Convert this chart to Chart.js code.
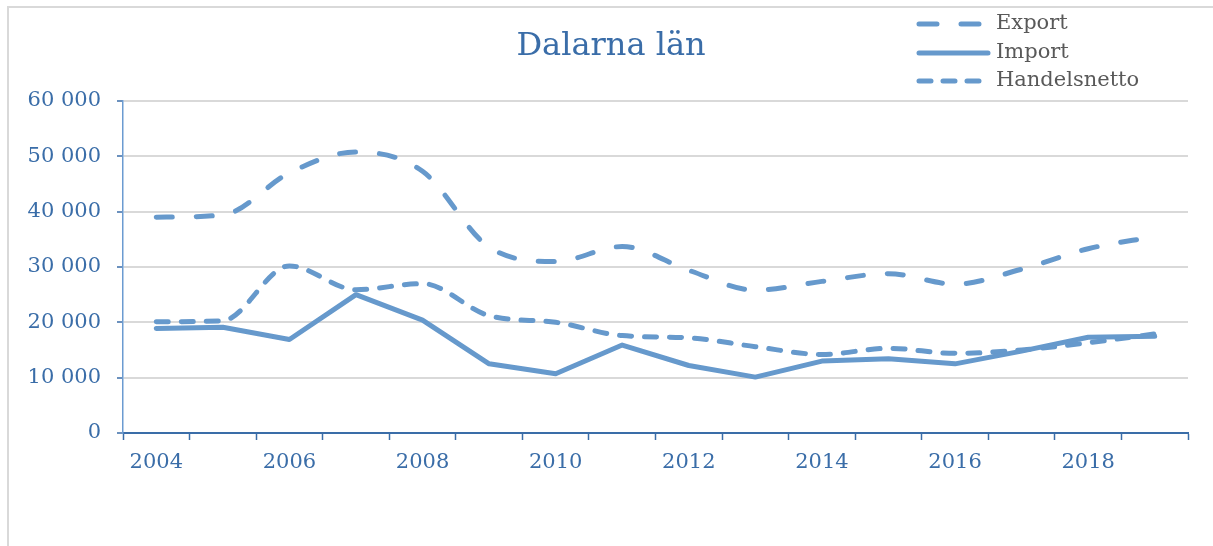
<!DOCTYPE html>
<html>
<head>
<meta charset="utf-8">
<script src="https://cdn.jsdelivr.net/npm/chart.js@4"></script>
<style>
    body { margin: 0; background: #fff; }
    #frame { position: absolute; left: 7px; top: 6px; width: 1400px; height: 700px; border-left: 2px solid #d9d9d9; border-top: 2px solid #d9d9d9; }
    #userChart { position: absolute; left: 0; top: 0; }
</style>
</head>
<body>
<div id="frame"></div>
<canvas id="userChart" width="1213" height="546"></canvas>
<script>
// Data
const years = ['2004', '2005', '2006', '2007', '2008', '2009', '2010', '2011', '2012', '2013', '2014', '2015', '2016', '2017', '2018', '2019'];
const exportValues = [39000, 39400, 47000, 50800, 47300, 33600, 31000, 33700, 29400, 25800, 27400, 28800, 26900, 29600, 33300, 35500];
const importValues = [18900, 19100, 16900, 25000, 20400, 12500, 10700, 15900, 12200, 10100, 13000, 13400, 12500, 14800, 17300, 17500];
const nettoValues = [20100, 20300, 30200, 25900, 27000, 21200, 20000, 17600, 17200, 15600, 14200, 15300, 14400, 15000, 16300, 17900];
const yTicks = [0, 10000, 20000, 30000, 40000, 50000, 60000];

const lineColor = '#6699cc';
const textBlue = '#3a6da8';
const serif = "'DejaVu Serif', 'Liberation Serif', serif";

function fmt(v) {
    return v.toString().replace(/\B(?=(\d{3})+(?!\d))/g, ' ');
}

// title + vertical legend in the top right corner
const decorations = {
    id: 'decorations',
    afterDraw(chart) {
        const ctx = chart.ctx;
        ctx.save();
        ctx.fillStyle = textBlue;
        ctx.font = `32px ${serif}`;
        ctx.textAlign = 'center';
        ctx.textBaseline = 'middle';
        ctx.fillText('Dalarna län', 611, 47);

        const rows = [24, 53, 81];
        chart.data.datasets.forEach((ds, i) => {
            ctx.beginPath();
            ctx.strokeStyle = ds.borderColor;
            ctx.lineWidth = ds.borderWidth;
            ctx.lineCap = 'round';
            ctx.setLineDash(ds.legendDash);
            ctx.moveTo(919, rows[i]);
            ctx.lineTo(988, rows[i]);
            ctx.stroke();
            ctx.setLineDash([]);
            ctx.fillStyle = '#595959';
            ctx.font = `21px ${serif}`;
            ctx.textAlign = 'left';
            ctx.fillText(ds.label, 996, rows[i]);
        });
        ctx.restore();
    }
};

const ctx = document.getElementById('userChart').getContext('2d');
new Chart(ctx, {
    type: 'line',
    data: {
        labels: years,
        datasets: [
            { label: 'Export', data: exportValues, borderColor: lineColor, borderWidth: 5, borderDash: [16, 24], legendDash: [18, 24], cubicInterpolationMode: 'monotone', borderCapStyle: 'round' },
            { label: 'Import', data: importValues, borderColor: lineColor, borderWidth: 5, borderDash: [], legendDash: [], tension: 0, borderCapStyle: 'round' },
            { label: 'Handelsnetto', data: nettoValues, borderColor: lineColor, borderWidth: 5, borderDash: [12, 13], legendDash: [12, 12], cubicInterpolationMode: 'monotone', borderCapStyle: 'round' }
        ]
    },
    options: {
        responsive: false,
        animation: false,
        devicePixelRatio: 1,
        layout: { padding: { left: 0, top: 101, right: 25, bottom: 0 } },
        elements: { point: { radius: 0 }, line: { borderJoinStyle: 'round', fill: false } },
        plugins: { legend: { display: false }, tooltip: { enabled: false } },
        scales: {
            x: {
                offset: true,
                afterFit: s => { s.height = 113; },
                grid: { offset: true, drawOnChartArea: false, tickLength: 7, tickColor: textBlue, tickWidth: 1.5 },
                border: { color: textBlue, width: 2 },
                ticks: {
                    autoSkip: false, maxRotation: 0, padding: 10,
                    color: textBlue, font: { family: serif, size: 21 },
                    callback: function (v, i) { return i % 2 === 0 ? this.getLabelForValue(v) : ''; }
                }
            },
            y: {
                min: yTicks[0], max: yTicks[yTicks.length - 1],
                afterFit: s => { s.width = 123; },
                afterBuildTicks: s => { s.ticks = yTicks.map(v => ({ value: v })); },
                grid: { color: '#d9d9d9', lineWidth: 2, tickLength: 6, tickColor: textBlue, tickWidth: 1.5 },
                border: { color: '#6b9bd1', width: 1.5 },
                ticks: { padding: 16, color: textBlue, font: { family: serif, size: 21 }, callback: v => fmt(v) }
            }
        }
    },
    plugins: [decorations]
});
</script>
</body>
</html>
